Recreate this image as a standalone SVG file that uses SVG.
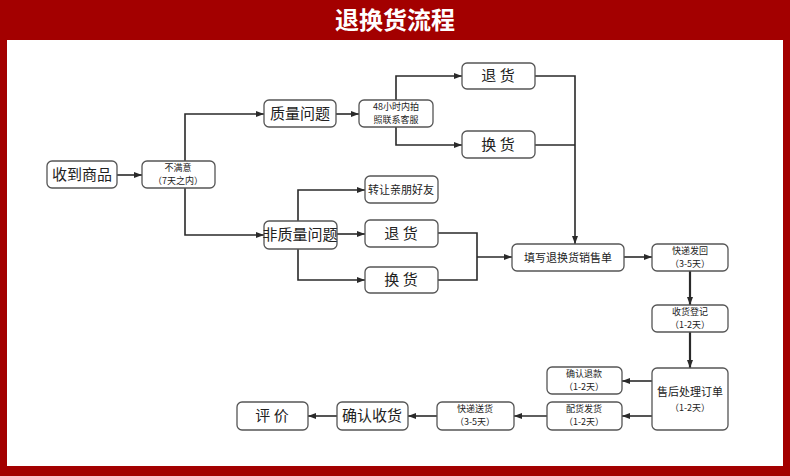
<svg xmlns="http://www.w3.org/2000/svg" width="790" height="476" viewBox="0 0 790 476">
<style>
.n rect{fill:#fff;stroke:#555;stroke-width:1.3}
text{font-family:"Noto Sans CJK SC","Liberation Sans",sans-serif;fill:#222;text-anchor:middle}
.b{font-size:15px}.s{font-size:11px}.t{font-size:9px}
#c path{fill:none;stroke:#2a2a2a;stroke-width:1.6}
</style>
<defs><marker id="a" viewBox="0 0 8 6" refX="8" refY="3" markerWidth="8" markerHeight="6" markerUnits="userSpaceOnUse" orient="auto"><path d="M0,0L8,3L0,6z" fill="#2a2a2a"/></marker></defs>
<rect width="790" height="476" fill="#a30000"/>
<rect x="7" y="40" width="776" height="426" fill="#fff"/>
<text x="395" y="29" style="font-size:24px;fill:#fff;font-weight:bold">退换货流程</text>
<g id="c" marker-end="url(#a)">
<path d="M117,175H142"/>
<path d="M185,161V114H264"/>
<path d="M185,188V235H264"/>
<path d="M336,114H359"/>
<path d="M396,100V76H462"/>
<path d="M396,127V145H462"/>
<path d="M535,76H575V244"/>
<path d="M535,145H575" marker-end="none"/>
<path d="M337,234H365"/>
<path d="M298,221V190H365"/>
<path d="M298,249V280H365"/>
<path d="M438,233H477V280H438" marker-end="none"/>
<path d="M477,257H512"/>
<path d="M624,257H652"/>
<path d="M690,271V305" style="stroke-width:2.2"/>
<path d="M690,332V368" style="stroke-width:2.2"/>
<path d="M652,381H622"/>
<path d="M652,416H622"/>
<path d="M547,416H514"/>
<path d="M437,416H408"/>
<path d="M337,416H308"/>
</g>
<g id="n1" class="n"><rect x="47" y="161" width="70" height="27" rx="5"/><text class="b" x="82" y="180">收到商品</text></g>
<g id="n2" class="n"><rect x="142" y="161" width="73" height="27" rx="5"/><text class="t" x="178" y="171">不满意</text><text class="t" x="178" y="184">（7天之内）</text></g>
<g id="n3" class="n"><rect x="264" y="100" width="72" height="27" rx="5"/><text class="b" x="300" y="119">质量问题</text></g>
<g id="n4" class="n"><rect x="359" y="100" width="74" height="27" rx="5"/><text class="t" x="396" y="110">48小时内拍</text><text class="t" x="396" y="123">照联系客服</text></g>
<g id="n5" class="n"><rect x="462" y="63" width="73" height="26" rx="5"/><text class="b" x="498" y="81">退 货</text></g>
<g id="n6" class="n"><rect x="462" y="131" width="73" height="27" rx="5"/><text class="b" x="498" y="150">换 货</text></g>
<g id="n7" class="n"><rect x="365" y="176" width="73" height="27" rx="5"/><text class="s" x="401" y="194">转让亲朋好友</text></g>
<g id="n8" class="n"><rect x="264" y="221" width="73" height="28" rx="5"/><text class="b" x="300" y="240">非质量问题</text></g>
<g id="n9" class="n"><rect x="365" y="220" width="73" height="27" rx="5"/><text class="b" x="401" y="239">退 货</text></g>
<g id="n10" class="n"><rect x="365" y="267" width="73" height="26" rx="5"/><text class="b" x="401" y="285">换 货</text></g>
<g id="n11" class="n"><rect x="512" y="244" width="112" height="27" rx="5"/><text class="s" x="568" y="262">填写退换货销售单</text></g>
<g id="n12" class="n"><rect x="652" y="244" width="76" height="27" rx="5"/><text class="t" x="690" y="254">快递发回</text><text class="t" x="690" y="267">（3-5天）</text></g>
<g id="n13" class="n"><rect x="652" y="305" width="76" height="27" rx="5"/><text class="t" x="690" y="315">收货登记</text><text class="t" x="690" y="328">（1-2天）</text></g>
<g id="n14" class="n"><rect x="652" y="368" width="76" height="62" rx="5"/><text class="s" x="690" y="396">售后处理订单</text><text class="t" x="690" y="411">（1-2天）</text></g>
<g id="n15" class="n"><rect x="547" y="367" width="75" height="27" rx="5"/><text class="t" x="584" y="377">确认退款</text><text class="t" x="584" y="390">（1-2天）</text></g>
<g id="n16" class="n"><rect x="547" y="402" width="75" height="28" rx="5"/><text class="t" x="584" y="412">配货发货</text><text class="t" x="584" y="425">（1-2天）</text></g>
<g id="n17" class="n"><rect x="437" y="402" width="77" height="28" rx="5"/><text class="t" x="475" y="412">快递送货</text><text class="t" x="475" y="425">（3-5天）</text></g>
<g id="n18" class="n"><rect x="337" y="402" width="71" height="28" rx="5"/><text class="b" x="372" y="421">确认收货</text></g>
<g id="n19" class="n"><rect x="237" y="402" width="71" height="28" rx="5"/><text class="b" x="272" y="421">评 价</text></g>
</svg>
